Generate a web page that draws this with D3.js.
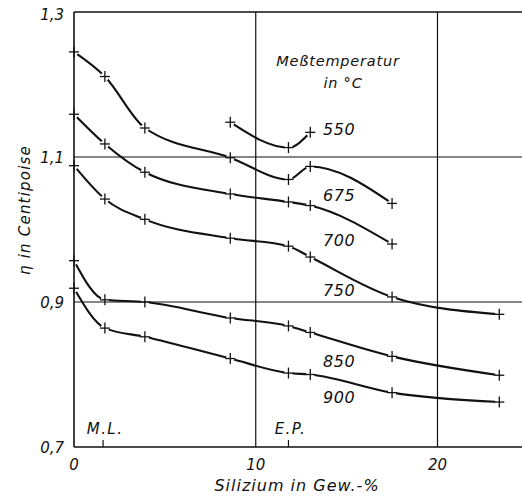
<!DOCTYPE html>
<html>
<head>
<meta charset="utf-8">
<script src="https://cdn.jsdelivr.net/npm/d3@7"></script>
<style>
  html, body { margin: 0; padding: 0; background: #fff; }
  svg { display: block; }
  text { font-family: "DejaVu Sans", sans-serif; font-style: italic; fill: #111; }
</style>
</head>
<body>
<svg id="chart" width="522" height="496"></svg>
<script>
// ---- data ----
const temps = ["550", "675", "700", "750", "850", "900"];
const x550 = [8.6, 11.8, 13.0];
const y550 = [1.148, 1.113, 1.134];
const x675 = [0, 1.7, 3.9, 8.6, 11.8, 13.0, 17.5];
const y675 = [1.245, 1.211, 1.140, 1.099, 1.069, 1.087, 1.036];
const x700 = [0, 1.7, 3.9, 8.6, 11.8, 13.0, 17.5];
const y700 = [1.159, 1.118, 1.079, 1.049, 1.038, 1.033, 0.980];
const x750 = [0, 1.7, 3.9, 8.6, 11.8, 13.0, 17.5, 23.4];
const y750 = [1.088, 1.042, 1.014, 0.988, 0.977, 0.962, 0.907, 0.883];
const x850 = [0, 1.7, 3.9, 8.6, 11.8, 13.0, 17.5, 23.4];
const y850 = [0.957, 0.903, 0.900, 0.878, 0.867, 0.858, 0.825, 0.799];
const x900 = [0, 1.7, 3.9, 8.6, 11.8, 13.0, 17.5, 23.4];
const y900 = [0.919, 0.864, 0.852, 0.822, 0.802, 0.800, 0.775, 0.762];
// label anchor positions (data units)
const labelX = [13.7, 13.7, 13.7, 13.7, 13.7, 13.7];
const labelY = [1.130, 1.040, 0.977, 0.908, 0.810, 0.761];
const xTickVals = [0, 10, 20];
const xTickLabels = ["0", "10", "20"];
const yTickVals = [0.7, 0.9, 1.1, 1.3];
const yTickLabels = ["0,7", "0,9", "1,1", "1,3"];
const gridX = [10, 20];
const gridY = [0.9, 1.1, 1.3];
const markX = [1.6, 11.8];
const markLabels = ["M.L.", "E.P."];
const xTitle = "Silizium in Gew.-%";
const yTitle = "η in Centipoise";
const legendTitle = ["Meßtemperatur", "in °C"];

const series = [
  {name: temps[0], xs: x550, ys: y550},
  {name: temps[1], xs: x675, ys: y675},
  {name: temps[2], xs: x700, ys: y700},
  {name: temps[3], xs: x750, ys: y750},
  {name: temps[4], xs: x850, ys: y850},
  {name: temps[5], xs: x900, ys: y900}
];

// ---- scales ----
const x = d3.scaleLinear().domain([0, 24.65]).range([74, 522]);
const y = d3.scaleLinear().domain([0.7, 1.3]).range([447, 12]);

const svg = d3.select("#chart");

// ---- curves ----
const line = d3.line().x(d => x(d[0])).y(d => y(d[1])).curve(d3.curveMonotoneX);
const gCurves = svg.append("g");
series.forEach(s => {
  const pts = s.xs.map((v, i) => [v, s.ys[i]]);
  gCurves.append("path").attr("d", line(pts))
    .attr("fill", "none").attr("stroke", "#111").attr("stroke-width", 2.1)
    .attr("stroke-linecap", "round");
});
// halos producing small gaps around markers
series.forEach(s => {
  s.xs.forEach((v, i) => {
    gCurves.append("circle").attr("cx", x(v)).attr("cy", y(s.ys[i])).attr("r", 4.2).attr("fill", "#fff");
  });
});

// ---- grid & axes ----
const gGrid = svg.append("g").attr("stroke", "#111");
gridY.forEach(v => {
  gGrid.append("line").attr("x1", x(0)).attr("x2", 522).attr("y1", y(v)).attr("y2", y(v))
    .attr("stroke-width", v === 1.3 ? 1.4 : 1.1);
});
gridX.forEach(v => {
  gGrid.append("line").attr("x1", x(v)).attr("x2", x(v)).attr("y1", y(1.3)).attr("y2", y(0.7))
    .attr("stroke-width", 1.2);
});
// left & bottom axis lines
gGrid.append("line").attr("x1", x(0)).attr("x2", x(0)).attr("y1", y(1.3)).attr("y2", y(0.7)).attr("stroke-width", 1.6);
gGrid.append("line").attr("x1", x(0)).attr("x2", 522).attr("y1", y(0.7)).attr("y2", y(0.7)).attr("stroke-width", 1.6);

// M.L. / E.P. markers
markX.forEach((v, i) => {
  gGrid.append("line").attr("x1", x(v)).attr("x2", x(v)).attr("y1", y(0.7)).attr("y2", y(0.7) - 7).attr("stroke-width", 1.2);
  svg.append("text").attr("x", x(v) + 2).attr("y", y(0.7) - 13)
    .attr("text-anchor", "middle").attr("font-size", 15).attr("letter-spacing", 1.4)
    .text(markLabels[i]);
});

// ---- tick labels ----
xTickVals.forEach((v, i) => {
  svg.append("text").attr("x", x(v)).attr("y", 470).attr("text-anchor", "middle")
    .attr("font-size", 15).text(xTickLabels[i]);
});
yTickVals.forEach((v, i) => {
  svg.append("text").attr("x", 64).attr("y", y(v) + (v === 1.3 ? 8 : 6)).attr("text-anchor", "end")
    .attr("font-size", 15).text(yTickLabels[i]);
});

// ---- axis titles ----
svg.append("text").attr("x", 297).attr("y", 491).attr("text-anchor", "middle")
  .attr("font-size", 16).attr("letter-spacing", 1.0).text(xTitle);
svg.append("text").attr("transform", "translate(30,210) rotate(-90)").attr("text-anchor", "middle")
  .attr("font-size", 15).attr("letter-spacing", 1.2).text(yTitle);

// ---- markers ----
const gMarks = svg.append("g").attr("stroke", "#111").attr("stroke-width", 1.3);
series.forEach(s => {
  s.xs.forEach((v, i) => {
    const cx = x(v), cy = y(s.ys[i]);
    gMarks.append("line").attr("x1", cx - 5).attr("x2", cx + 5).attr("y1", cy).attr("y2", cy);
    gMarks.append("line").attr("x1", cx).attr("x2", cx).attr("y1", cy - 5.5).attr("y2", cy + 5.5);
  });
});

// ---- series labels ----
series.forEach((s, i) => {
  svg.append("text").attr("x", x(labelX[i])).attr("y", y(labelY[i]))
    .attr("font-size", 16).attr("letter-spacing", 0.6).text(s.name);
});

// legend title
svg.append("text").attr("x", 338).attr("y", 66).attr("text-anchor", "middle")
  .attr("font-size", 14.5).attr("letter-spacing", 0.8).text(legendTitle[0]);
svg.append("text").attr("x", 343).attr("y", 88).attr("text-anchor", "middle")
  .attr("font-size", 14.5).attr("letter-spacing", 0.8).text(legendTitle[1]);
</script>
</body>
</html>
